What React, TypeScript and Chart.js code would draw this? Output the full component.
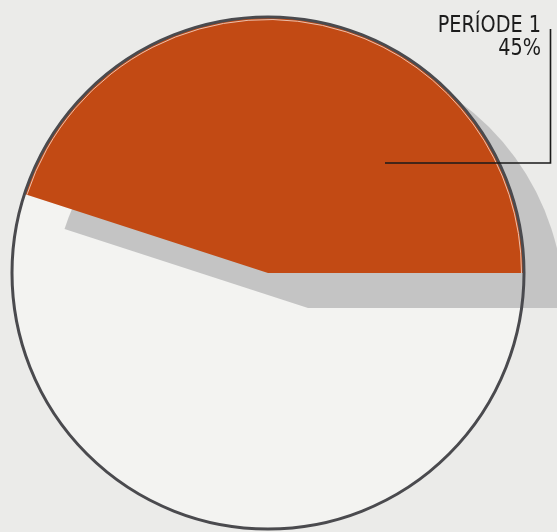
import React, { useEffect, useRef } from "react";
import { Chart, registerables } from "chart.js";

Chart.register(...registerables);

const categories = ["PERÍODE 1", "Resta"];
const values = [45, 55];
const labelLines = ["PERÍODE 1", "45%"];

const W = 557;
const H = 532;

const ORANGE = "#c24a14";
const WHITE = "#f3f3f1";
const SHADOW = "#c4c4c4";
const BORDER = "#4a4a4e";
const BG = "#ebebe9";

const piePlugin = {
  id: "customPie",
  beforeDatasetsDraw(chart: any) {
    const ctx = chart.ctx;
    const meta = chart.getDatasetMeta(0);
    const a0 = meta.data[0];
    const a1 = meta.data[1];
    const p = a0.getProps(["x", "y", "startAngle", "endAngle", "outerRadius"], true);
    // white part
    a1.draw(ctx);
    // shadow of the highlighted slice
    const dx = 40;
    const dy = 35;
    ctx.save();
    ctx.fillStyle = SHADOW;
    ctx.beginPath();
    ctx.moveTo(p.x + dx, p.y + dy);
    ctx.arc(p.x + dx, p.y + dy, p.outerRadius, p.startAngle, p.endAngle);
    ctx.closePath();
    ctx.fill();
    ctx.restore();
    // main slice
    a0.draw(ctx);
    // thin highlight inside the border
    ctx.save();
    ctx.strokeStyle = "rgba(240,205,190,0.9)";
    ctx.lineWidth = 1;
    ctx.beginPath();
    ctx.arc(p.x, p.y, p.outerRadius - 2.5, p.startAngle, p.endAngle);
    ctx.stroke();
    ctx.restore();
    // circle border
    ctx.save();
    ctx.strokeStyle = BORDER;
    ctx.lineWidth = 3;
    ctx.beginPath();
    ctx.arc(p.x, p.y, p.outerRadius, 0, Math.PI * 2);
    ctx.stroke();
    ctx.restore();

    // leader line
    ctx.save();
    ctx.strokeStyle = "#1a1a1a";
    ctx.lineWidth = 1.6;
    ctx.beginPath();
    ctx.moveTo(385, 163);
    ctx.lineTo(550.5, 163);
    ctx.lineTo(550.5, 29);
    ctx.stroke();
    ctx.restore();

    // label
    ctx.save();
    ctx.fillStyle = "#1c1c1c";
    ctx.textAlign = "right";
    ctx.textBaseline = "alphabetic";
    ctx.font = '23px "Liberation Sans Narrow", "DejaVu Sans Condensed", "Liberation Sans", sans-serif';
    ctx.translate(541, 0);
    ctx.scale(0.93, 1);
    ctx.fillText(labelLines[0], 0, 32);
    ctx.fillText(labelLines[1], 0, 55);
    ctx.restore();
    return false;
  },
};

export default function App() {
  const ref = useRef<HTMLCanvasElement | null>(null);
  useEffect(() => {
    if (!ref.current) return;
    const chart = new Chart(ref.current, {
      type: "pie",
      data: {
        labels: categories,
        datasets: [
          {
            data: values,
            backgroundColor: [ORANGE, WHITE],
            borderWidth: 0,
          },
        ],
      },
      options: {
        responsive: false,
        animation: false,
        rotation: 288,
        layout: { padding: { left: 12, right: 33, top: 17, bottom: 3 } },
        plugins: {
          legend: { display: false },
          tooltip: { enabled: false },
        },
        events: [],
      },
      plugins: [piePlugin],
    });
    return () => chart.destroy();
  }, []);
  return (
    <div style={{ position: "fixed", left: 0, top: 0, width: W, height: H, background: BG }}>
      <canvas ref={ref} width={W} height={H} style={{ display: "block" }} />
    </div>
  );
}
